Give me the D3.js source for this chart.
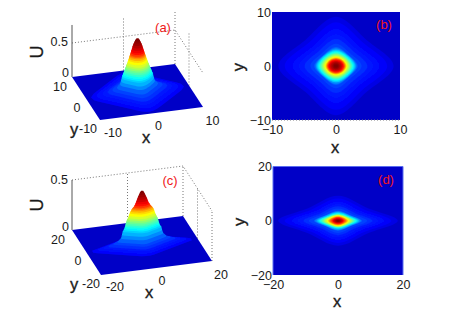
<html>
<head>
	<meta charset="utf-8">
	<title>Soliton panels</title>
	<script src="https://d3js.org/d3.v7.min.js"></script>
	<style>
	html, body { margin: 0; padding: 0; background: #fff; }
	text { font-family: "Liberation Sans", Arial, sans-serif; fill: #1a1a1a; }
	.tick-label { font-size: 12.5px; }
	.axis-label { font-size: 16.5px; stroke: #1a1a1a; stroke-width: 0.35px; }
	.u-label { font-size: 18px; stroke: #1a1a1a; stroke-width: 0.3px; }
	.panel-label { font-size: 13px; fill: #f01818; }
	.axis path, .axis line { display: none; }
	.axis text { font-size: 12.5px; font-family: "Liberation Sans", Arial, sans-serif; fill: #1a1a1a; }
	.grid { fill: none; stroke: #777; stroke-width: 1; stroke-dasharray: 1 2; }
	</style>
</head>
<body>
	<div id="chart"></div>

	<script>
		// contour levels as a fraction of the peak, low to high
		var levels = [0.10, 0.12, 0.135, 0.15, 0.17, 0.19, 0.22, 0.26, 0.30, 0.33, 0.36, 0.39, 0.42, 0.45, 0.48, 0.515, 0.55, 0.585, 0.62, 0.66, 0.70, 0.74, 0.78, 0.82, 0.86, 0.89, 0.92, 0.945, 0.97, 0.985, 1.0];
		// height of each contour on the 3d surfaces, fraction of the peak
		var heights = [0, 0.02, 0.04, 0.06, 0.09, 0.12, 0.18, 0.24, 0.30, 0.33, 0.36, 0.39, 0.42, 0.45, 0.48, 0.51, 0.54, 0.58, 0.62, 0.65, 0.68, 0.70, 0.72, 0.75, 0.78, 0.82, 0.86, 0.9, 0.94, 0.97, 1.0];
		// half widths of each contour (b), (c) and (d)
		var xrB = [9, 8, 6.8, 5.8, 4.9, 4.0, 3.4, 3.2, 3.05, 2.93, 2.8, 2.68, 2.55, 2.43, 2.3, 2.18, 2.05, 1.9, 1.75, 1.65, 1.55, 1.47, 1.4, 1.3, 1.2, 1.08, 0.95, 0.8, 0.6, 0.45, 0.3];
		var yrB = [9.1, 8.1, 6.9, 5.9, 5.0, 4.1, 3.5, 3.3, 3.05, 2.93, 2.8, 2.65, 2.5, 2.38, 2.25, 2.13, 2.0, 1.85, 1.7, 1.6, 1.5, 1.42, 1.35, 1.25, 1.15, 1.03, 0.9, 0.77, 0.6, 0.45, 0.3];
		var xrC = [18.4, 16.4, 14.2, 12.4, 10.6, 9.0, 7.8, 7.3, 7.0, 6.6, 6.3, 6.15, 6.0, 5.85, 5.7, 5.4, 5.1, 4.8, 4.5, 4.2, 3.85, 3.5, 3.1, 2.75, 2.4, 2.1, 1.8, 1.45, 1.1, 0.8, 0.45];
		var yrC = [9.2, 8.2, 7.1, 6.2, 5.3, 4.5, 3.9, 3.65, 3.5, 3.3, 3.15, 3.07, 3.0, 2.92, 2.85, 2.7, 2.55, 2.4, 2.25, 2.08, 1.9, 1.72, 1.55, 1.38, 1.2, 1.05, 0.9, 0.72, 0.55, 0.4, 0.25];
		var xrD = [18.4, 16.4, 14.2, 12.4, 10.6, 9, 7.4, 7, 6.5, 6.2, 5.9, 5.6, 5.3, 5.0, 4.7, 4.4, 4.1, 3.75, 3.4, 3.15, 2.9, 2.65, 2.4, 2.1, 1.8, 1.6, 1.4, 1.15, 0.9, 0.65, 0.4];
		var yrD = [9.2, 8.2, 7.1, 6.2, 5.3, 4.5, 3.7, 3.5, 3.25, 3.0, 2.8, 2.67, 2.55, 2.42, 2.3, 2.22, 2.15, 2.05, 1.95, 1.8, 1.65, 1.52, 1.4, 1.25, 1.1, 0.95, 0.8, 0.65, 0.5, 0.37, 0.25];
		// how far the contour bulges on the diagonal: 0.5 is a diamond, 0.7 a circle
		var bulgeB = [0.53, 0.53, 0.53, 0.54, 0.55, 0.56, 0.58, 0.6, 0.62, 0.625, 0.63, 0.635, 0.64, 0.645, 0.65, 0.655, 0.66, 0.665, 0.67, 0.675, 0.68, 0.685, 0.69, 0.695, 0.7, 0.705, 0.71, 0.71, 0.71, 0.71, 0.71];
		var bulgeD = [0.5, 0.5, 0.5, 0.5, 0.51, 0.52, 0.53, 0.55, 0.56, 0.565, 0.57, 0.575, 0.58, 0.59, 0.6, 0.605, 0.61, 0.615, 0.62, 0.63, 0.64, 0.645, 0.65, 0.66, 0.67, 0.68, 0.69, 0.695, 0.7, 0.705, 0.71];

		var ticksB = [-10, 0, 10];
		var ticksD = [-20, 0, 20];
		var peakA = 0.78, peakC = 0.545;
		var background = 0.07;

		var svg = d3.select("#chart").append("svg")
			.attr("width", 456)
			.attr("height", 327);

		// slight softening, the original picture is a low resolution bitmap
		svg.append("filter").attr("id", "soft")
			.append("feGaussianBlur").attr("stdDeviation", 0.6);

		// jet colour map
		var jet = d3.scaleLinear()
			.domain([0, 0.125, 0.375, 0.625, 0.875, 1])
			.range(["#00007f", "#0000ff", "#00ffff", "#ffff00", "#ff0000", "#7f0000"]);

		var contourLine = d3.line().curve(d3.curveCatmullRomClosed.alpha(0.5));

		// eight control points of one contour in data units
		function contour(xr, yr, b) {
			return [[xr, 0], [xr * b, yr * b], [0, yr], [-xr * b, yr * b],
				[-xr, 0], [-xr * b, -yr * b], [0, -yr], [xr * b, -yr * b]];
		}

		// walk along a smooth contour path to get plain points for the hull
		function sampleRing(pts) {
			var path = document.createElementNS("http://www.w3.org/2000/svg", "path");
			path.setAttribute("d", contourLine(pts));
			var len = path.getTotalLength();
			return d3.range(48).map(function(k) {
				var p = path.getPointAtLength(len * k / 48);
				return [p.x, p.y];
			});
		}

		function heatPanel(o) {
			var x = d3.scaleLinear().domain([o.ticks[0], o.ticks[2]]).range([o.left, o.right]);
			var y = d3.scaleLinear().domain([o.ticks[0], o.ticks[2]]).range([o.bottom, o.top]);

			var clipId = "clip" + o.name;
			svg.append("clipPath").attr("id", clipId).append("rect")
				.attr("x", o.left).attr("y", o.top)
				.attr("width", o.right - o.left).attr("height", o.bottom - o.top);

			var g = svg.append("g").attr("clip-path", "url(#" + clipId + ")");
			g.append("rect")
				.attr("x", o.left).attr("y", o.top)
				.attr("width", o.right - o.left).attr("height", o.bottom - o.top)
				.attr("fill", jet(background));

			g.append("g").attr("filter", "url(#soft)").selectAll("path")
				.data(levels)
				.enter().append("path")
				.attr("fill", function(d) { return jet(d); })
				.attr("d", function(d, i) {
					var pts = contour(o.xr[i], o.yr[i], o.bulge[i]).map(function(p) {
						return [x(p[0]), y(p[1])];
					});
					return contourLine(pts);
				});

			if (o.edge) {
				svg.append("path")
					.attr("d", "M" + o.left + "," + o.bottom + "V" + o.top + "H" + o.right + "V" + o.bottom)
					.attr("fill", "none")
					.attr("stroke", "#5a6cf0");
			} else {
				svg.append("path")
					.attr("class", "grid")
					.attr("d", "M" + o.left + "," + o.bottom + "H" + o.right);
			}

			svg.append("g")
				.attr("class", "axis")
				.attr("transform", "translate(0," + o.bottom + ")")
				.call(d3.axisBottom(x).tickValues(o.ticks).tickSize(0).tickPadding(o.tickGap).tickFormat(d3.format("d")));
			svg.append("g")
				.attr("class", "axis")
				.attr("transform", "translate(" + o.left + ",0)")
				.call(d3.axisLeft(y).tickValues(o.ticks).tickSize(0).tickPadding(1).tickFormat(d3.format("d")));

			svg.append("text").attr("class", "axis-label")
				.attr("text-anchor", "middle")
				.attr("x", (o.left + o.right) / 2 - 1).attr("y", o.xNameY)
				.text("x");
			svg.append("text").attr("class", "axis-label")
				.attr("text-anchor", "middle")
				.attr("transform", "translate(" + (o.left - 28) + "," + ((o.top + o.bottom) / 2 + 1) + ") rotate(-90)")
				.text("y");
			svg.append("text").attr("class", "panel-label")
				.attr("text-anchor", "middle")
				.attr("x", o.labelX).attr("y", o.labelY)
				.text(o.label);
		}

		function surfacePanel(o) {
			var L = o.ticks[2];
			var xx = d3.scaleLinear().domain([-L, L]).range([0, o.right[0] - o.front[0]]);
			var xy = d3.scaleLinear().domain([-L, L]).range([0, o.right[1] - o.front[1]]);
			var yx = d3.scaleLinear().domain([-L, L]).range([0, o.left[0] - o.front[0]]);
			var yy = d3.scaleLinear().domain([-L, L]).range([0, o.left[1] - o.front[1]]);
			var zy = d3.scaleLinear().domain([0, 0.5]).range([0, o.halfHeight]);

			function project(x, y, z) {
				return [o.front[0] + xx(x) + yx(y), o.front[1] + xy(x) + yy(y) - zy(z)];
			}

			// dotted box behind the surface
			var zTop = o.zTop;
			var gridLines = [
				[project(-L, L, 0.5), project(L, L, 0.5), project(L, -L, 0.5)],
				[project(0, L, 0), project(0, L, zTop)],
				[project(L, L, 0), project(L, L, zTop)],
				[project(L, 0, 0), project(L, 0, zTop)]
			];
			if (o.closedBox) {
				gridLines.push([project(L, -L, 0), project(L, -L, zTop)]);
			}
			svg.selectAll(null)
				.data(gridLines)
				.enter().append("path")
				.attr("class", "grid")
				.attr("d", d3.line());

			svg.append("path")
				.attr("d", d3.line()([project(-L, L, 0), project(-L, L, zTop)]))
				.attr("stroke", "#555")
				.attr("fill", "none");

			// floor first
			svg.append("path")
				.attr("fill", jet(background))
				.attr("d", d3.line()([project(-L, -L, 0), project(L, -L, 0), project(L, L, 0), project(-L, L, 0)]) + "Z");

			// each band is the hull of two neighbouring contours, painted low to high
			var rings = levels.map(function(d, i) {
				var z = heights[i] * o.peak;
				return sampleRing(contour(o.xr[i], o.yr[i], o.bulge[i]).map(function(p) {
					return project(p[0], p[1], z);
				}));
			});
			svg.append("g").attr("filter", "url(#soft)").selectAll("path")
				.data(levels)
				.enter().append("path")
				.attr("fill", function(d) { return jet(d); })
				.attr("d", function(d, i) {
					var pts = i === 0 ? rings[0] : rings[i - 1].concat(rings[i]);
					return d3.line()(d3.polygonHull(pts)) + "Z";
				});

			function label(cls, x, y, anchor, text) {
				return svg.append("text").attr("class", cls)
					.attr("x", x).attr("y", y)
					.attr("text-anchor", anchor)
					.text(text);
			}

			label("tick-label", o.zLow[0], o.zLow[1], "end", "0");
			label("tick-label", o.zHigh[0], o.zHigh[1], "end", "0.5");
			label("tick-label", o.yTop[0], o.yTop[1], "middle", o.ticks[2]);
			label("tick-label", o.yMid[0], o.yMid[1], "middle", "0");
			label("tick-label", o.yLow[0], o.yLow[1], "start", o.ticks[0]);
			label("axis-label", o.yName[0], o.yName[1], "middle", "y");
			label("tick-label", o.xLow[0], o.xLow[1], "middle", o.ticks[0]);
			label("tick-label", o.xMid[0], o.xMid[1], "middle", "0");
			label("tick-label", o.xHigh[0], o.xHigh[1], "middle", o.ticks[2]);
			label("axis-label", o.xName[0], o.xName[1], "middle", "x");

			svg.append("text").attr("class", "u-label")
				.attr("text-anchor", "middle")
				.attr("transform", "translate(" + o.uName[0] + "," + o.uName[1] + ") rotate(-90)")
				.text("U");
			label("panel-label", o.labelX, o.labelY, "middle", o.label);
		}

		surfacePanel({
			ticks: ticksB, xr: xrB, yr: yrB, bulge: bulgeB, peak: peakA, zTop: 0.765,
			front: [100, 120], right: [203, 107], left: [72, 77], halfHeight: 34,
			zLow: [69, 77], zHigh: [68, 45.5],
			yTop: [60, 91], yMid: [77, 112], yLow: [79, 132.5], yName: [74, 135],
			xLow: [113, 136.5], xMid: [158.5, 129.5], xHigh: [212.5, 124.5], xName: [146, 142.5],
			uName: [43, 52], label: "(a)", labelX: 163, labelY: 32, closedBox: false
		});
		surfacePanel({
			ticks: ticksD, xr: xrC, yr: yrC, bulge: bulgeD, peak: peakC, zTop: 0.5,
			front: [101, 275], right: [212, 261], left: [72, 230], halfHeight: 50,
			zLow: [69, 231], zHigh: [68, 183.5],
			yTop: [58, 244], yMid: [78, 265], yLow: [82, 287.5], yName: [74, 290],
			xLow: [115, 290.5], xMid: [162, 284.5], xHigh: [221, 278.5], xName: [149, 298],
			uName: [43, 205], label: "(c)", labelX: 170, labelY: 185, closedBox: true
		});
		heatPanel({
			name: "b", ticks: ticksB, xr: xrB, yr: yrB, bulge: bulgeB,
			left: 272, right: 400, top: 12, bottom: 120, tickGap: 5.5, xNameY: 152.5,
			label: "(b)", labelX: 384, labelY: 29
		});
		heatPanel({
			name: "d", ticks: ticksD, xr: xrD, yr: yrD, bulge: bulgeD,
			left: 273, right: 403, top: 166.5, bottom: 275, edge: true, tickGap: 5, xNameY: 306.5,
			label: "(d)", labelX: 386, labelY: 184
		});
	</script>
</body>
</html>
